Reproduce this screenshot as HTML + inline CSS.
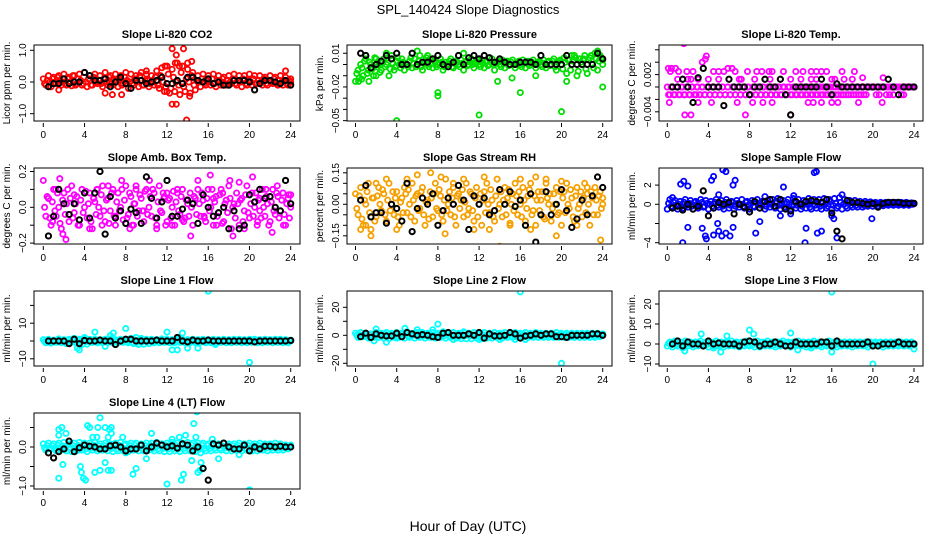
<!DOCTYPE html>
<html><head><meta charset="utf-8"><style>
body{margin:0;background:#fff;}
svg text{font-family:"Liberation Sans",sans-serif;}
</style></head><body>
<svg id="chart" width="936" height="540" xmlns="http://www.w3.org/2000/svg">
<rect width="936" height="540" fill="#fff"/>
<text x="468" y="14" font-size="13" text-anchor="middle">SPL_140424  Slope Diagnostics</text>
<text x="468" y="531" font-size="14" text-anchor="middle">Hour of Day (UTC)</text>
</svg>
<script>
// ---------- data ----------
const co2Main=[0.1,-0.1,0.2,-0.15,0.15,-0.05,0.2,-0.1,0.25,-0.1,0.15,-0.12,0.2,-0.05,0.25,-0.1,0.3,-0.15,0.2,-0.1,0.25,-0.05,0.2,-0.15,0.3,-0.1,0.2,-0.1,0.25,-0.15,0.2,-0.05,0.3,-0.2,0.25,-0.1,0.2,-0.15,0.3,-0.1,0.25,-0.15,0.2,-0.1,0.35,-0.2,0.45,-0.3,0.5,-0.35,0.4,-0.3,0.6,-0.4,0.5,-0.3,0.4,-0.35,0.3,-0.25,0.2,-0.15,0.25,-0.1,0.2,-0.1,0.25,-0.15,0.2,-0.1,0.15,-0.1,0.2,-0.05,0.25,-0.1,0.2,-0.15,0.2,-0.1,0.25,-0.1,0.2,-0.05,0.2,-0.1,0.15,-0.1,0.2,-0.05,0.15,-0.1,0.2,-0.1,0.15,-0.1,0.1];
const co2Main2=[-0.05,0.05,0.0,0.1,-0.05,0.15,0.05,0.0,-0.05,0.1,0.0,0.2,-0.1,0.1,0.05,-0.05,0.0,0.1,-0.1,0.15,0.0,0.05,-0.05,0.1,0.0,0.15,-0.05,0.05,0.0,0.1,-0.1,0.15,0.05,0.0,-0.05,0.1,0.0,0.2,-0.1,0.05,0.05,-0.05,0.0,0.15,-0.1,0.2,0.0,-0.15,0.25,-0.2,0.15,0.0,-0.1,0.3,-0.15,0.1,0.0,0.2,-0.1,0.05,0.0,0.1,-0.05,0.05,0.0,0.1,-0.05,0.05,0.0,0.1,-0.05,0.05,0.0,0.1,-0.05,0.05,0.0,0.1,-0.05,0.05,0.0,0.1,-0.05,0.05,0.0,0.1,-0.05,0.05,0.0,0.1,-0.05,0.05,0.0,0.05,-0.05,0.05,0.0];
const co2Extra=[[12.5,1.05],[13.6,1.05],[12.9,0.85],[12.8,0.6],[13.2,0.5],[14.0,0.6],[14.4,0.65],[11.8,0.5],[12.5,-0.7],[12.9,-0.7],[13.9,-1.2],[6,-0.35],[6.7,-0.4],[7.6,-0.4],[1.5,-0.25],[12,-0.3],[14.2,-0.45],[10,0.35],[23.5,0.35]];
const co2Black=[-0.15,-0.05,-0.05,0.1,-0.05,0,0,0.3,0.2,0.05,0.05,0.1,-0.15,0,0.15,-0.05,-0.2,0.05,0.05,-0.05,0,0.05,0.15,-0.05,-0.05,0.05,-0.05,0.15,0.15,0.05,0,0.1,-0.05,0,-0.1,-0.1,0.05,0.05,0.05,0,-0.25,-0.05,0.05,0.05,0,-0.05,0.05,-0.1];

const presMain=[-0.015,-0.005,0.0,-0.01,0.005,-0.005,0.0,-0.01,0.005,0.0,-0.005,0.005,0.0,-0.01,0.008,-0.005,0.003,0.0,0.005,-0.005,0.0,0.003,-0.003,0.005,0.0,0.008,-0.005,0.003,0.0,0.005,-0.003,0.003,0.0,0.005,-0.005,0.002,0.0,0.005,-0.003,0.003,0.0,0.004,-0.005,0.003,0.0,0.005,-0.003,0.002,0.0,0.004,-0.003,0.003,0.0,0.005,-0.005,0.002,0.0,0.004,-0.003,0.003,0.0,0.004,-0.003,0.002,0.0,0.004,-0.003,0.003,0.0,0.004,-0.003,0.002,0.0,0.004,-0.003,0.003,0.0,0.005,-0.005,0.003,0.0,0.006,-0.008,0.004,0.0,0.008,-0.01,0.005,0.0,0.008,-0.008,0.006,0.0,0.01,-0.005,0.008,0.0];
const presMain2=[-0.008,-0.012,-0.003,0.003,-0.008,0.002,-0.004,0.006,-0.002,-0.007,0.002,-0.002,0.006,-0.004,0.001,-0.002,0.006,-0.003,0.002,0.0,-0.002,0.006,0.001,-0.002,0.003,-0.002,0.001,0.006,-0.002,0.001,0.003,-0.002,0.001,0.002,-0.002,0.0,0.003,-0.002,0.001,0.002,-0.002,0.001,0.002,-0.001,0.002,0.0,0.001,0.004,-0.002,0.001,0.002,-0.001,0.002,0.0,0.001,0.003,-0.002,0.001,0.002,-0.001,0.002,0.0,0.001,0.003,-0.002,0.001,0.002,-0.001,0.002,0.0,0.001,0.003,-0.002,0.001,0.002,-0.001,0.003,-0.002,0.002,0.004,-0.004,0.002,0.004,-0.005,0.003,0.006,-0.006,0.002,0.005,-0.004,0.004,0.008,-0.003,0.005,0.003,0.006,0.004];
const presExtra=[[0.3,-0.015],[0.6,-0.013],[1.3,-0.015],[2,-0.01],[4,-0.05],[8,-0.025],[8,-0.028],[12,-0.045],[20,-0.042],[24,-0.02],[16,-0.025],[13.8,-0.015],[3,0.01],[6,0.012],[7,0.008],[10.5,0.01],[21,0.008],[23.5,0.012],[20.5,-0.015],[15.2,-0.012],[17.5,-0.01]];
const presBlack=[0.01,0.008,-0.003,0.0,0.003,0.008,0.005,0.01,0.0,0.0,0.01,0,0.002,0.002,0.005,0.008,0.0,-0.002,0.002,0.008,0.0,0.006,0.008,0.005,0.008,0.006,0.002,0.005,0.002,0,0.0,0.002,0.002,0.002,0.0,0.008,0.0,0.0,0,0.0,0.008,0.0,0.0,0.0,0.0,0.0,0.01,0.005];

const tempMain=[0,-0.00125,0,-0.00125,0,-0.00125,0,-0.00125,0,-0.00125,0,-0.00125,0,-0.00125,0,-0.00125,0,-0.00125,0,-0.00125,0,-0.00125,0,-0.00125,0,-0.00125,0,-0.00125,0,-0.00125,0,-0.00125,0,-0.00125,0,-0.00125,0,-0.00125,0,-0.00125,0,-0.00125,0,-0.00125,0,-0.00125,0,-0.00125,0,-0.00125,0,-0.00125,0,-0.00125,0,-0.00125,0,-0.00125,0,-0.00125,0,-0.00125,0,-0.00125,0,-0.00125,0,-0.00125,0,-0.00125,0,-0.00125,0,-0.00125,0,-0.00125,0,-0.00125,0,-0.00125,0,0,0,-0.00125,0,0,0,-0.00125,0,0,0,0,0,-0.00125,0,0,0,0,0];
const tempMain2=[-0.00125,0,-0.00125,0,-0.00125,0,-0.00125,0,-0.00125,0,-0.00125,0,-0.00125,0,-0.00125,0,-0.00125,0,-0.00125,0,-0.00125,0,-0.00125,0,-0.00125,0,-0.00125,0,-0.00125,0,-0.00125,0,-0.00125,0,-0.00125,0,-0.00125,0,-0.00125,0,-0.00125,0,-0.00125,0,-0.00125,0,-0.00125,0,-0.00125,0,-0.00125,0,-0.00125,0,-0.00125,0,-0.00125,0,-0.00125,0,-0.00125,0,-0.00125,0,-0.00125,0,-0.00125,0,-0.00125,0,-0.00125,0,-0.00125,0,-0.00125,0,-0.00125,0,0,0,0,0,-0.00125,0,0,0,-0.00125,0,0,0,0,0,0,0,0,0,0];
const tempExtra=[[0.1,0.003],[0.4,0.003],[0.8,0.003],[0.3,0.0025],[1.1,0.0025],[1.5,0.00125],[1.9,0.0025],[2.3,0.00125],[2.5,0.0025],[3.0,0.00125],[3.4,0.004],[3.7,0.0045],[3.8,0.005],[1.6,0.007],[0.2,-0.0025],[1.7,-0.0045],[2.3,-0.0045],[4.5,0.0025],[5,0.0025],[5.5,0.0025],[5.9,0.003],[6.3,0.003],[6.6,0.0025],[7.2,0.00125],[7.8,0.0025],[5.8,-0.006],[7.6,-0.0045],[4.3,-0.0025],[3,-0.0025],[6.8,-0.0025],[8.3,-0.0025],[8.7,0.0025],[9.2,0.0025],[9.9,0.0025],[10.2,0.0025],[11.3,0.0025],[12.5,0.0025],[13.2,0.0025],[14,0.0025],[14.5,0.0025],[15,0.0025],[15.5,0.0025],[16.3,0.00125],[17,0.0025],[18.2,0.0025],[19,0.0015],[21,0.0015],[12,-0.0045],[9.3,-0.0025],[10.2,-0.0025],[13.7,-0.0025],[14.2,-0.0025],[15,-0.0025],[16,-0.0025],[16.6,-0.0025],[18.6,-0.0025],[20.9,-0.0025],[13,0.00125],[14.5,0.00125],[17.2,0.00125],[11,0.00125],[9.5,0.00125],[8.5,0.00125],[6,0.00125],[4,0.00125],[2.8,-0.00125],[22,-0.00125],[23,-0.00125],[1,0.00125],[2,0.00125],[5,0.00125],[7,0.00125],[10,0.00125],[12,0.00125],[14,0.00125],[16,0.00125],[18,0.00125]];
const tempBlack=[0,0,0.00125,0,-0.0025,0.0015,0.003,0,0,0,-0.003,0.00125,0,0,0,-0.00125,0,0,0.00125,0,0,0.00125,-0.00125,-0.0045,0,0,0,0,0,0.00125,0,-0.00125,0.0005,0,0,0,0,0,0,0,0,0,0.00125,0,-0.00125,0,0,0];

const ambMain=[0.15,-0.05,0.05,-0.1,0.1,-0.05,0.0,-0.12,0.08,0.02,-0.08,0.12,-0.03,0.06,-0.1,0.1,0.0,-0.06,0.08,-0.12,0.03,0.1,-0.05,0.12,-0.08,0.05,-0.02,0.1,-0.1,0.08,0.0,-0.07,0.12,-0.04,0.06,-0.1,0.1,-0.02,0.05,-0.08,0.1,0.0,-0.05,0.08,-0.1,0.12,-0.03,0.06,-0.08,0.05,0.0,-0.1,0.08,-0.04,0.1,-0.06,0.02,0.08,-0.1,0.05,0.15,-0.05,0.04,-0.08,0.1,0.0,-0.1,0.06,-0.03,0.1,-0.08,0.04,0.12,-0.12,0.02,0.08,-0.1,0.05,-0.02,0.12,-0.06,0.08,0.0,-0.1,0.05,0.1,-0.05,0.02,-0.08,0.1,-0.04,0.06,-0.02,0.08,-0.1,0.05,0.07];
const ambMain2=[0.0,0.06,-0.06,0.03,-0.02,0.08,-0.09,0.04,-0.04,0.1,0.05,-0.06,0.02,-0.1,0.04,-0.03,0.09,0.02,-0.08,0.05,-0.04,0.0,0.07,-0.02,0.04,-0.09,0.08,-0.05,0.03,-0.02,0.1,0.04,-0.06,0.08,-0.1,0.02,-0.05,0.07,-0.02,0.09,-0.04,0.06,0.1,-0.06,0.03,-0.02,0.08,-0.1,0.04,-0.06,0.09,0.03,-0.02,0.06,-0.08,0.04,-0.05,0.0,0.06,-0.04,0.02,0.08,-0.06,0.05,-0.02,0.1,0.03,-0.05,0.07,-0.09,0.02,-0.03,0.05,0.0,-0.06,0.02,0.04,-0.08,0.07,-0.03,0.02,-0.05,0.08,0.04,-0.06,0.0,0.06,-0.1,0.03,-0.02,0.08,-0.06,0.04,-0.04,0.02,-0.06,0.0];
const ambExtra=[[0.5,0.05],[0.9,-0.08],[1.6,0.16],[1.9,-0.15],[2.2,-0.18],[3,0.07],[3.5,-0.1],[4.5,-0.12],[5.2,0.1],[5.7,-0.1],[6.3,0.12],[7,-0.05],[7.6,0.15],[8.4,-0.12],[9,0.12],[9.7,-0.02],[10.3,0.15],[11,-0.12],[11.7,0.05],[12.5,-0.1],[13,0.1],[13.5,-0.07],[14.3,-0.16],[15,0.1],[15.6,-0.05],[16.2,0.18],[16.8,-0.1],[17.4,0.08],[18.1,0.15],[18.4,-0.16],[19,0.14],[19.5,-0.12],[20.3,0.17],[20.8,-0.08],[21.6,0.1],[22.2,-0.14],[22.7,0.12],[23.3,-0.1],[23.8,0.07],[1.2,0.1],[4.9,0.05],[8.8,0.02],[12,0.08],[16.5,0.05],[21,-0.02]];
const ambBlack=[-0.16,-0.05,0.1,0.02,-0.04,0.02,-0.07,0.08,-0.06,0.08,0.2,-0.15,0.06,-0.06,-0.02,-0.09,-0.01,-0.03,-0.09,0.17,0.05,-0.06,0.03,0.15,-0.05,-0.05,-0.01,0.04,0.02,-0.09,0.07,0.0,-0.05,-0.03,0.0,-0.12,-0.02,-0.12,-0.1,0.07,0.03,0.1,0.05,0.06,0.0,-0.02,0.15,0.02];

const gasMain=[0.05,-0.05,0.08,-0.1,0.0,0.1,-0.12,0.03,-0.06,0.08,-0.03,0.05,-0.08,0.1,0.0,-0.05,0.06,-0.1,0.03,0.08,-0.04,0.0,0.1,-0.08,0.05,-0.02,0.08,-0.1,0.02,0.06,-0.06,0.1,-0.03,0.04,-0.08,0.12,0.0,-0.05,0.08,-0.1,0.05,0.02,-0.06,0.1,-0.02,0.05,-0.08,0.08,0.0,-0.1,0.06,0.1,-0.04,0.02,-0.08,0.12,0.0,-0.06,0.08,0.03,-0.1,0.05,0.1,-0.05,0.0,0.08,-0.08,0.04,0.1,-0.03,-0.1,0.06,0.02,-0.06,0.1,0.0,-0.08,0.05,0.08,-0.04,-0.1,0.06,0.1,-0.02,0.03,-0.08,0.08,0.0,-0.06,0.1,0.05,-0.1,0.03,0.08,-0.05,0.06,0.0];
const gasMain2=[-0.02,0.04,-0.07,0.02,0.06,-0.04,0.03,-0.08,0.04,0.0,0.07,-0.05,0.02,-0.03,0.06,0.03,-0.06,0.01,-0.04,0.05,0.07,-0.06,0.02,0.04,-0.03,0.06,-0.05,0.01,-0.07,0.03,0.05,-0.02,0.07,-0.05,0.02,-0.03,0.06,0.03,-0.06,0.04,-0.02,0.07,0.01,-0.05,0.06,-0.03,0.03,-0.06,0.05,0.02,-0.04,0.0,0.07,-0.06,0.04,-0.02,0.06,0.02,-0.05,0.07,0.0,-0.03,0.04,0.06,-0.06,0.02,-0.02,0.07,-0.05,0.04,0.02,-0.03,0.06,-0.07,0.03,0.05,-0.02,0.0,-0.05,0.06,0.03,-0.04,0.0,0.07,-0.06,0.04,-0.02,0.06,0.03,-0.04,0.0,0.06,-0.05,0.02,0.04,-0.02,0.03];
const gasExtra=[[0.5,-0.12],[1,-0.1],[1.5,-0.15],[2,0.1],[3,0.12],[5,0.12],[6,0.14],[7.3,0.15],[8.3,0.13],[9.5,0.1],[10.5,0.12],[11.5,-0.12],[12.5,0.13],[13,-0.12],[14,-0.2],[15,-0.09],[16,0.12],[17.5,0.13],[18.5,0.12],[19.5,-0.15],[20,0.11],[21.5,-0.1],[22.5,0.08],[23.8,-0.17],[4,-0.12],[8.7,-0.14],[17,-0.12]];
const gasBlack=[0.02,0.09,-0.06,-0.04,-0.04,-0.09,0.0,-0.02,-0.08,0.1,-0.13,-0.02,0.03,0.0,0.05,-0.1,-0.03,0.03,0.0,0.09,0.02,-0.12,0.04,0.0,0.03,-0.05,-0.03,0.07,0.0,0.06,-0.01,0.02,-0.1,0.05,-0.18,-0.05,0.06,-0.05,0.0,0.07,-0.03,-0.11,-0.07,0.02,-0.05,0.04,0.13,0.08];

const flowMain=[-0.5,0.5,-0.3,0.4,-0.5,0.3,-0.4,0.5,-0.3,0.4,-0.5,0.3,-0.4,0.5,-0.3,0.4,-0.5,0.3,-0.4,0.5,-0.3,0.4,-0.5,0.5,-0.4,0.3,-0.5,0.4,-0.3,0.5,-0.4,0.3,-0.5,0.4,-0.3,0.5,-0.4,0.3,-0.5,0.4,-0.3,0.5,-0.4,0.6,-0.5,0.4,-0.3,0.5,-0.5,0.6,-0.4,0.5,-0.5,0.4,-0.4,0.6,-0.5,0.5,-0.4,0.5,-0.5,0.6,-0.4,0.5,-0.5,0.6,-0.4,0.7,-0.5,0.5,-0.4,0.4,-0.3,0.4,-0.3,0.3,-0.3,0.3,-0.2,0.25,-0.2,0.2,-0.15,0.2,-0.15,0.2,-0.1,0.2,-0.1,0.2,-0.1,0.2,-0.1,0.2,-0.1,0.15,0.1];
const flowMain2=[0.1,-0.2,0.2,-0.1,0.0,-0.2,0.2,-0.1,0.1,-0.2,0.2,0.0,-0.1,0.2,-0.2,0.1,0.0,-0.2,0.2,-0.1,0.1,-0.2,0.2,0.0,-0.1,0.2,-0.2,0.1,0.0,-0.2,0.2,-0.1,0.1,-0.2,0.2,0.0,-0.1,0.2,-0.2,0.1,0.0,-0.2,0.3,-0.1,0.1,-0.3,0.2,0.0,-0.2,0.3,-0.1,0.1,-0.2,0.2,0.0,-0.3,0.3,-0.1,0.1,-0.2,0.2,0.0,-0.2,0.3,-0.1,0.1,-0.2,0.2,0.0,-0.2,0.2,-0.1,0.1,-0.1,0.1,0.0,-0.1,0.1,0.0,0.1,0.0,0.05,0.1,0.0,0.05,0.1,0.0,0.05,0.1,0.0,0.05,0.1,0.0,0.05,0.1,0.0,0.05];
const flowExtra=[[0.5,0.7],[1.3,2.1],[1.6,2.4],[2,1.9],[1.5,-4],[2,-2.4],[3.4,-2.5],[3.7,-3.3],[3.8,-3.6],[4.3,2.5],[4.5,2.9],[5.4,3.6],[5.7,3.4],[6.6,2.5],[6.4,2.0],[5,1.0],[4.5,-3.2],[5.0,-2.8],[5.3,-3.3],[5.7,-3.0],[6.1,-3.3],[6.4,-2.4],[4.9,-2.0],[8.6,-3.0],[9.0,-1.8],[11.3,1.8],[12.3,0.9],[13.4,-4],[13.5,-2.5],[14.3,3.3],[14.5,3.4],[14.6,-3.0],[15,-2.8],[16.5,-3.5],[16.2,-1.5],[17,1.0],[19.9,-1.5],[12,-1.0],[16,-1.2],[9.5,0.8],[11,-1.2]];
const flowBlack=[-0.4,-0.2,-0.6,0,-0.5,-0.2,1.4,-1.2,-0.4,0.2,0,0.2,-1.0,0,-0.3,-0.8,0.3,-0.4,0.3,0.5,-0.2,0.5,-0.5,-0.7,0.3,0,0.3,0.4,0.3,0.2,0.5,-0.9,-2.8,-3.6,0.4,0.2,0.2,0.1,0,0.1,-0.3,0.1,0.2,0.2,0.2,0.1,0.1,0.1];

const l1Main=[0.8,-1,1,-1.2,0.5,-0.8,1.2,-1,0.8,-1.5,1,-0.8,1.5,-1.2,1,-2,1.5,-1.8,1,-0.8,1,-1,0.8,-1,1,-0.8,1.2,-1,0.8,-1,1,-0.8,1,-1,1.5,-1.5,2,-2,1.5,-1.8,1,-1.5,1,-1,0.8,-1,1.2,-0.8,1,-1,0.8,-1,1,-0.8,1,-1,0.8,-1,1,-1,0.8,-0.8,1,-1,0.8,-1,1,-1,0.8,-0.8,1,-1,0.8,-1,1,-0.8,1,-1,0.8,-1,1,-0.8,1,-1,0.8,-1,1,-0.8,0.8,-1,1,-0.8,1,-1,0.8,-1,0.5];
const l1Main2=[-0.3,0.3,-0.5,0.2,0.0,0.4,-0.4,0.3,-0.2,0.5,-0.4,0.2,-0.6,0.5,-0.3,0.6,-0.5,0.4,-0.2,0.3,-0.4,0.2,-0.3,0.4,-0.2,0.3,-0.4,0.2,-0.3,0.4,-0.2,0.3,-0.4,0.2,-0.6,0.6,-0.8,0.7,-0.5,0.6,-0.4,0.5,-0.3,0.3,-0.3,0.4,-0.2,0.3,-0.4,0.2,-0.3,0.4,-0.2,0.3,-0.4,0.2,-0.3,0.4,-0.2,0.3,-0.3,0.2,-0.3,0.4,-0.2,0.3,-0.3,0.2,-0.3,0.4,-0.2,0.3,-0.3,0.2,-0.3,0.4,-0.2,0.3,-0.3,0.2,-0.3,0.4,-0.2,0.3,-0.3,0.2,-0.3,0.3,-0.2,0.3,-0.3,0.2,-0.3,0.3,-0.2,0.2,0.0];
const l1Extra=[[16,28],[20,-12],[8,7],[12,5],[13.5,4.5],[4,2],[5,5],[6.5,3],[6.8,4.5],[3.5,-5],[3.3,-4],[12.5,-5],[13,-5],[14,-4],[15,-4],[6,-3],[16.7,-2]];
const l1Black=[0,0,0,0,-1.5,1,-1.5,0.3,0,0,0.5,0,0,-2,0,1,1,0,0,0,0,0.5,0,0,0,2,0,-0.5,0.5,0,0,0.5,0,0,0,0,0,0,0,0,-0.5,0,0,0,0,0,0,0.3];

const l2Main=[1.5,-1.5,2,-1,1.5,-2,1,-1.5,2,-1.5,1.5,-2,2,-2.5,1.5,-1.5,2,-1.5,1.5,-2,2.5,-1.5,1.5,-2,2,-1.5,2,-2,1.5,-1.5,2,-2,1.5,-1.5,2.5,-2,1.5,-1.5,2,-2,1.5,-2.5,2,-2.5,1.5,-2.5,2,-2,1.5,-2.5,2,-2,1.5,-2,2,-1.5,1.5,-2,2,-1.5,1.5,-1.5,2,-1.5,1.5,-1.5,2,-1.5,1.5,-1.5,2,-1.5,1.5,-1.5,1.5,-1.5,1.5,-1.5,2,-1.5,1.5,-1.5,1.5,-1.5,1.5,-1.5,1.5,-1.5,1.5,-1.5,1.5,-1.5,1.5,-1.5,1.5,-1,1];
const l2Main2=[0,0.5,-0.5,0.8,-0.3,0.5,-0.8,0.3,0,0.6,-0.5,0.8,-0.6,0.3,0,0.5,-0.8,0.6,-0.3,0.8,-0.5,0.3,0,0.6,-0.8,0.5,-0.3,0.8,-0.5,0.3,0,0.6,-0.8,0.5,-0.3,0.8,-0.5,0.3,0,0.6,-0.8,0.5,-0.3,0.8,-0.5,0.3,0,0.6,-0.8,0.5,-0.3,0.8,-0.5,0.3,0,0.6,-0.5,0.5,-0.3,0.6,-0.5,0.3,0,0.5,-0.5,0.5,-0.3,0.6,-0.5,0.3,0,0.5,-0.5,0.5,-0.3,0.6,-0.5,0.3,0,0.5,-0.5,0.5,-0.3,0.6,-0.5,0.3,0,0.5,-0.5,0.5,-0.3,0.6,-0.5,0.3,0,0.5,0];
const l2Extra=[[16,31],[20,-20],[8,8],[2,4.5],[4.8,5],[6,4],[7.5,4],[1.8,-4],[3,-5],[9.5,-3],[12,-3],[14,-3],[15.5,-3],[16.5,-3],[4,-2],[10.5,2.5]];
const l2Black=[-1,1.5,-1.5,1,0,-0.5,-0.5,1.5,-1,2,1,0,0.5,0,-1,-1.5,1.5,2,0,0,0,1,0,2,-2,1,-0.5,-0.5,0,2,1,-2,-0.5,0,1,0,1,1,-1,-1,-1.5,0,0,0,0,1,1,0];

const l3Main=[-1,1,-1.5,1.5,-1,1,-2,1.5,-1,1,-1.5,1,-1,1.5,-1,1,-1.5,1,-1,1.5,-1,1,-1.5,1,-1,1.5,-1,1,-1.5,1,-1,1.5,-1,1,-1.5,1.5,-1.5,1,-1,1.5,-1,1,-1.5,1,-1,1.5,-1,1,-1.5,1,-1,1.5,-1,1,-1.5,1,-1,1.5,-1,1,-1.5,1,-1,1.5,-1,1,-1.5,1,-1,1,-1,1,-1.5,1,-1,1,-1,1,-1.5,1,-1,1,-1,1,-1.5,1,-1,1,-1,1,-1,1,-1,1,-1,1,-0.5];
const l3Main2=[0.3,-0.4,0.5,-0.3,0.2,-0.6,0.4,-0.2,0.5,-0.4,0.3,-0.5,0.4,-0.3,0.5,-0.2,0.4,-0.5,0.3,-0.4,0.5,-0.3,0.4,-0.5,0.3,-0.4,0.5,-0.3,0.4,-0.5,0.3,-0.4,0.5,-0.3,0.6,-0.5,0.4,-0.4,0.5,-0.3,0.4,-0.5,0.3,-0.4,0.5,-0.3,0.4,-0.5,0.3,-0.4,0.5,-0.3,0.4,-0.5,0.3,-0.4,0.5,-0.3,0.4,-0.5,0.3,-0.4,0.5,-0.3,0.4,-0.5,0.3,-0.3,0.4,-0.3,0.4,-0.4,0.3,-0.3,0.4,-0.3,0.4,-0.4,0.3,-0.3,0.4,-0.3,0.4,-0.4,0.3,-0.3,0.4,-0.3,0.3,-0.3,0.3,-0.3,0.3,-0.3,0.3,-0.2,0.2];
const l3Extra=[[16,26],[20,-10],[8,7],[5.8,4],[3.3,5],[8.4,5],[12,5.5],[1.7,-3.5],[5.2,-4],[12.7,-3],[16,-4],[4.5,-2],[24,-2.5],[14,-2]];
const l3Black=[0,1.5,-1,1,0,0,-1,1.5,0,0.5,0,0,0,-1,1,1.5,1,-1,0,0,1,0,-1,-1,1,0,0,0,0,1,1,-1,1.5,0,0,0,0,0,1,-1,-1,0,0,0,1,0,0,0];

const l4Main=[0.08,-0.08,0.1,-0.05,0.08,-0.1,0.1,-0.08,0.12,-0.1,0.08,-0.12,0.1,-0.1,0.12,-0.08,0.1,-0.12,0.1,-0.08,0.12,-0.1,0.08,-0.08,0.1,-0.1,0.08,-0.12,0.1,-0.1,0.12,-0.1,0.08,-0.12,0.1,-0.08,0.1,-0.1,0.08,-0.1,0.1,-0.08,0.1,-0.1,0.12,-0.1,0.08,-0.12,0.1,-0.12,0.12,-0.1,0.1,-0.12,0.1,-0.1,0.12,-0.1,0.1,-0.12,0.1,-0.15,0.1,-0.1,0.08,-0.1,0.1,-0.08,0.08,-0.08,0.1,-0.1,0.08,-0.1,0.08,-0.08,0.1,-0.1,0.08,-0.08,0.1,-0.1,0.08,-0.1,0.1,-0.08,0.08,-0.1,0.08,-0.08,0.1,-0.08,0.08,-0.08,0.05,-0.05,0.05];
const l4Main2=[-0.02,0.04,-0.04,0.03,-0.03,0.05,-0.04,0.03,-0.05,0.05,-0.03,0.04,-0.05,0.04,-0.04,0.05,-0.05,0.04,-0.03,0.05,-0.04,0.03,-0.05,0.04,-0.03,0.05,-0.04,0.04,-0.05,0.04,-0.03,0.05,-0.05,0.04,-0.04,0.05,-0.03,0.04,-0.05,0.04,-0.03,0.05,-0.04,0.04,-0.05,0.05,-0.04,0.04,-0.05,0.05,-0.04,0.04,-0.05,0.05,-0.04,0.04,-0.05,0.05,-0.04,0.04,-0.06,0.05,-0.04,0.04,-0.04,0.04,-0.03,0.04,-0.04,0.03,-0.03,0.04,-0.04,0.03,-0.03,0.04,-0.04,0.03,-0.03,0.04,-0.04,0.03,-0.03,0.04,-0.04,0.03,-0.03,0.04,-0.03,0.03,-0.03,0.03,-0.03,0.02,-0.02,0.02,0.0];
const l4Extra=[[1.5,0.45],[1.8,0.5],[2.2,0.35],[1.5,0.3],[1.5,-0.8],[1.9,-0.45],[3.6,-0.5],[3.7,-0.65],[3.9,-0.8],[4.1,-0.85],[4.3,0.55],[4.5,0.5],[4.8,0.25],[5.2,0.25],[5.5,0.75],[5.3,0.5],[6,0.5],[6.4,0.45],[6.6,0.5],[6.3,0.25],[6.6,0.35],[5,-0.65],[5.5,-0.6],[6,-0.4],[6.3,-0.6],[6.6,-0.6],[7.7,0.25],[8.7,-0.7],[9,-0.55],[10,-0.3],[10.5,0.35],[12,-0.95],[13.4,-0.85],[13.6,-0.7],[13.2,0.25],[13.8,0.3],[14.4,-0.35],[14.6,0.6],[14.9,0.9],[14.8,0.25],[15.3,-0.4],[15,-0.65],[15.2,-0.6],[16.4,0.2],[17,-0.3],[20,-1.1],[8,-0.15],[12.5,0.2],[19,-0.2]];
const l4Black=[-0.15,-0.28,-0.12,-0.05,0.15,-0.12,-0.02,0.05,0.02,0,-0.05,-0.05,0.03,0.05,0,-0.1,-0.05,-0.05,0.05,-0.1,0,0.1,0.05,0,0.03,-0.03,0.08,0.05,-0.1,0,-0.55,-0.85,0.08,0.05,0.1,0,-0.05,-0.05,0.05,-0.1,0,-0.05,0.02,0.02,0,0.02,0,0.0];

const xTicks=[0,4,8,12,16,20,24];

// ---------- layout (positions, not data) ----------
const panels=[
 {name:'co2',title:'Slope Li-820 CO2',ylab:'Licor ppm per min.',color:'#ff0000',mains:[co2Main,co2Main2],extra:co2Extra,black:co2Black,
  box:[34,45,300,121],x0:43.3,x1:290.7,yz:82,ypu:31.7,ticks:[-1,0,1],labels:{'-1':'−1.0','0':'0.0','1':'1.0'}},
 {name:'pressure',title:'Slope Li-820 Pressure',ylab:'kPa per min.',color:'#00dd00',mains:[presMain,presMain2],extra:presExtra,black:presBlack,
  box:[347,45,612,121],x0:355.5,x1:602.7,yz:64.5,ypu:1123,ticks:[0.01,0,-0.01,-0.02,-0.03,-0.04,-0.05],labels:{'0.01':'0.01','-0.02':'−0.02','-0.05':'−0.05'}},
 {name:'temp',title:'Slope Li-820 Temp.',ylab:'degrees C per min.',color:'#ff00ff',mains:[tempMain,tempMain2],extra:tempExtra,black:tempBlack,
  box:[659,45,923,121],x0:667.3,x1:914,yz:87,ypu:6200,ticks:[0.006,0.004,0.002,0,-0.002,-0.004],labels:{'0.002':'0.002','-0.004':'−0.004'}},
 {name:'amb-box-temp',title:'Slope Amb. Box Temp.',ylab:'degrees C per min.',color:'#ff00ff',mains:[ambMain,ambMain2],extra:ambExtra,black:ambBlack,
  box:[34,168,300,244],x0:43.3,x1:290.7,yz:207.3,ypu:179,ticks:[-0.2,-0.1,0,0.1,0.2],labels:{'-0.2':'−0.2','0':'0.0','0.2':'0.2'}},
 {name:'gas-rh',title:'Slope Gas Stream RH',ylab:'percent per min.',color:'#f5a000',mains:[gasMain,gasMain2],extra:gasExtra,black:gasBlack,
  box:[347,168,612,244],x0:355.5,x1:602.7,yz:204.3,ypu:210,ticks:[0.15,0.1,0.05,0,-0.05,-0.1,-0.15],labels:{'0.15':'0.15','0':'0.00','-0.15':'−0.15'}},
 {name:'sample-flow',title:'Slope Sample Flow',ylab:'ml/min per min.',color:'#0000ff',mains:[flowMain,flowMain2],extra:flowExtra,black:flowBlack,
  box:[659,168,923,244],x0:667.3,x1:914,yz:204.3,ypu:9.6,ticks:[2,0,-2,-4],labels:{'2':'2','0':'0','-4':'−4'}},
 {name:'line1-flow',title:'Slope Line 1 Flow',ylab:'ml/min per min.',color:'#00ffff',mains:[l1Main,l1Main2],extra:l1Extra,black:l1Black,
  box:[34,291,300,366],x0:43.3,x1:290.7,yz:341,ypu:1.78,ticks:[20,10,0,-10],labels:{'10':'10','-10':'−10'}},
 {name:'line2-flow',title:'Slope Line 2 Flow',ylab:'ml/min per min.',color:'#00ffff',mains:[l2Main,l2Main2],extra:l2Extra,black:l2Black,
  box:[347,291,612,366],x0:355.5,x1:602.7,yz:335.3,ypu:1.4,ticks:[20,10,0,-10,-20],labels:{'20':'20','0':'0','-20':'−20'}},
 {name:'line3-flow',title:'Slope Line 3 Flow',ylab:'ml/min per min.',color:'#00ffff',mains:[l3Main,l3Main2],extra:l3Extra,black:l3Black,
  box:[659,291,923,366],x0:667.3,x1:914,yz:344,ypu:2.0,ticks:[20,10,0,-10],labels:{'20':'20','10':'10','0':'0','-10':'−10'}},
 {name:'line4-flow',title:'Slope Line 4 (LT) Flow',ylab:'ml/min per min.',color:'#00ffff',mains:[l4Main,l4Main2],extra:l4Extra,black:l4Black,
  box:[34,413,300,489],x0:43.3,x1:290.7,yz:447,ypu:39,ticks:[0.5,0,-0.5,-1],labels:{'0':'0.0','-1':'−1.0'}}
];

const NS='http://www.w3.org/2000/svg';
const svg=document.getElementById('chart');
function mk(tag,attrs,parent){const e=document.createElementNS(NS,tag);for(const k in attrs)e.setAttribute(k,attrs[k]);(parent||svg).appendChild(e);return e;}

panels.forEach(p=>{
  const [L,T,R,B]=p.box;
  const xs=h=>p.x0+(p.x1-p.x0)*h/24;
  const ys=v=>p.yz-v*p.ypu;
  const g=mk('g',{});
  
  
  const clip=mk('clipPath',{id:'clip-'+p.name},g);
  mk('rect',{x:L,y:T,width:R-L,height:B-T},clip);
  const tt=mk('text',{x:(L+R)/2,y:T-7,'font-size':11,'font-weight':'bold','text-anchor':'middle'},g);
  tt.textContent=p.title;
  
  
  const yl=mk('text',{x:0,y:0,'font-size':10,'text-anchor':'middle',transform:`translate(${L-24},${(T+B)/2}) rotate(-90)`},g);
  yl.textContent=p.ylab;
  
  
  p.ticks.forEach(v=>{
    const y=ys(v);
    const t=mk('line',{x1:L-4,x2:L,y1:y,y2:y,stroke:'#000','stroke-width':1},g);
    
    
    const key=String(v);
    if(p.labels[key]!==undefined){
      const lb=mk('text',{x:0,y:0,'font-size':10,'text-anchor':'middle',transform:`translate(${L-8},${y}) rotate(-90)`},g);
      lb.textContent=p.labels[key];
      
      
    }
  });
  xTicks.forEach(h=>{
    const x=xs(h);
    const t=mk('line',{x1:x,x2:x,y1:B+2,y2:B+6,stroke:'#000','stroke-width':1},g);
    
    
    const lb=mk('text',{x:x,y:B+17,'font-size':10,'text-anchor':'middle'},g);
    lb.textContent=String(h);
    
    
  });
  const pts=mk('g',{'clip-path':`url(#clip-${p.name})`},g);
  
  
  p.mains.forEach((arr,k)=>{
    const n=arr.length;
    const off=k*0.125;
    arr.forEach((v,i)=>{
      const c=mk('circle',{cx:xs(Math.min(24,off+24*i/(n-1))),cy:ys(v),r:2.6,fill:'none',stroke:p.color,'stroke-width':1.8},pts);
      
      
    });
  });
  p.extra.forEach(d=>{
    const c=mk('circle',{cx:xs(d[0]),cy:ys(d[1]),r:2.6,fill:'none',stroke:p.color,'stroke-width':1.8},pts);
    
    
  });
  const m=p.black.length;
  p.black.forEach((v,i)=>{
    const c=mk('circle',{cx:xs(0.5+23.5*i/(m-1)),cy:ys(v),r:2.6,fill:'none',stroke:'#000','stroke-width':2},pts);
    
    
  });
  const box=mk('rect',{x:L,y:T,width:R-L,height:B-T,fill:'none',stroke:'#000','stroke-width':1},g);
  
  
});
</script>
</body></html>
